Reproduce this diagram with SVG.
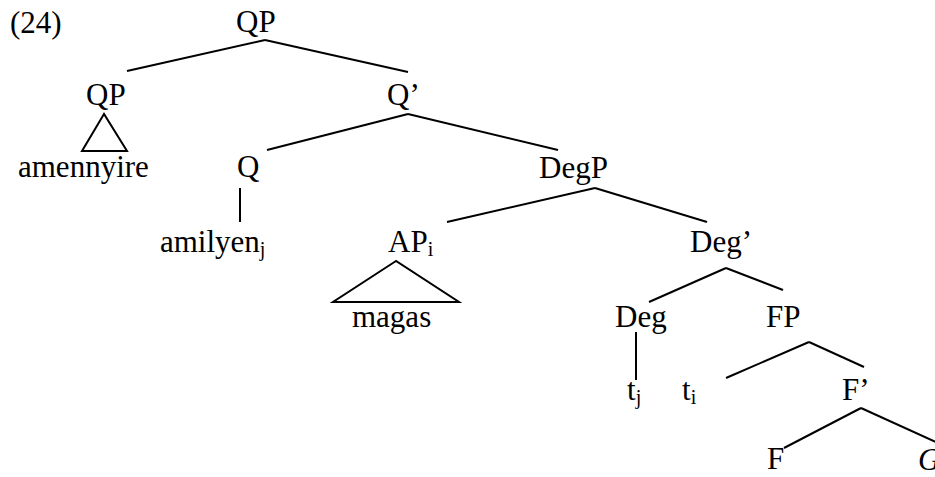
<svg xmlns="http://www.w3.org/2000/svg" width="935" height="477" viewBox="0 0 935 477">
<style>
.edge{stroke:#000;stroke-width:2;fill:none;stroke-linecap:butt}
</style>
<rect width="935" height="477" fill="#fff"/>
<text x="10" y="33" font-size="31" font-family="Liberation Serif">(24)</text>
<g id="edges">
<line class="edge" x1="265" y1="40" x2="127" y2="71"/>
<line class="edge" x1="265" y1="40" x2="408" y2="72"/>
<polygon class="edge" points="104,114 82,151 127,151"/>
<line class="edge" x1="408" y1="114" x2="267" y2="150"/>
<line class="edge" x1="408" y1="114" x2="558" y2="150"/>
<line class="edge" x1="240" y1="188" x2="240" y2="222"/>
<line class="edge" x1="595" y1="188" x2="447" y2="222"/>
<line class="edge" x1="595" y1="188" x2="707" y2="222"/>
<polygon class="edge" points="396,261 333,302 459,302"/>
<line class="edge" x1="726" y1="268" x2="649" y2="302"/>
<line class="edge" x1="726" y1="268" x2="783" y2="290"/>
<line class="edge" x1="636" y1="332" x2="636" y2="380"/>
<line class="edge" x1="809" y1="342" x2="726" y2="378"/>
<line class="edge" x1="809" y1="342" x2="864" y2="367"/>
<line class="edge" x1="861" y1="408" x2="784" y2="448"/>
<line class="edge" x1="861" y1="408" x2="940" y2="444"/>
</g>
<g id="n-qp-root"><text x="236" y="32" font-size="31" font-family="Liberation Serif">QP</text></g>
<g id="n-qp-left"><text x="86" y="105" font-size="31" font-family="Liberation Serif">QP</text></g>
<g id="n-amennyire"><text x="18" y="177" font-size="31" font-family="Liberation Serif">amennyire</text></g>
<g id="n-qbar"><text x="387" y="105" font-size="31" font-family="Liberation Serif">Q’</text></g>
<g id="n-q"><text x="237" y="177" font-size="31" font-family="Liberation Serif">Q</text></g>
<g id="n-amilyen"><text x="160" y="252" font-size="31" font-family="Liberation Serif">amilyen<tspan font-size="20" dy="4">j</tspan></text></g>
<g id="n-degp"><text x="539" y="178" font-size="31" font-family="Liberation Serif">DegP</text></g>
<g id="n-ap"><text x="388" y="252" font-size="31" font-family="Liberation Serif">AP<tspan font-size="20" dy="4">i</tspan></text></g>
<g id="n-magas"><text x="352" y="327" font-size="31" font-family="Liberation Serif">magas</text></g>
<g id="n-degbar"><text x="690" y="252" font-size="31" font-family="Liberation Serif">Deg’</text></g>
<g id="n-deg"><text x="615" y="327" font-size="31" font-family="Liberation Serif">Deg</text></g>
<g id="n-fp"><text x="766" y="327" font-size="31" font-family="Liberation Serif">FP</text></g>
<g id="n-tj"><text x="627" y="400" font-size="31" font-family="Liberation Serif">t<tspan font-size="20" dy="4">j</tspan></text></g>
<g id="n-ti"><text x="682" y="400" font-size="31" font-family="Liberation Serif">t<tspan font-size="20" dy="4">i</tspan></text></g>
<g id="n-fbar"><text x="842" y="400" font-size="31" font-family="Liberation Serif">F’</text></g>
<g id="n-f"><text x="767" y="469" font-size="31" font-family="Liberation Serif">F</text></g>
<g id="n-g"><text x="918" y="470" font-size="31" font-family="Liberation Serif" font-style="italic">G</text></g>
</svg>
